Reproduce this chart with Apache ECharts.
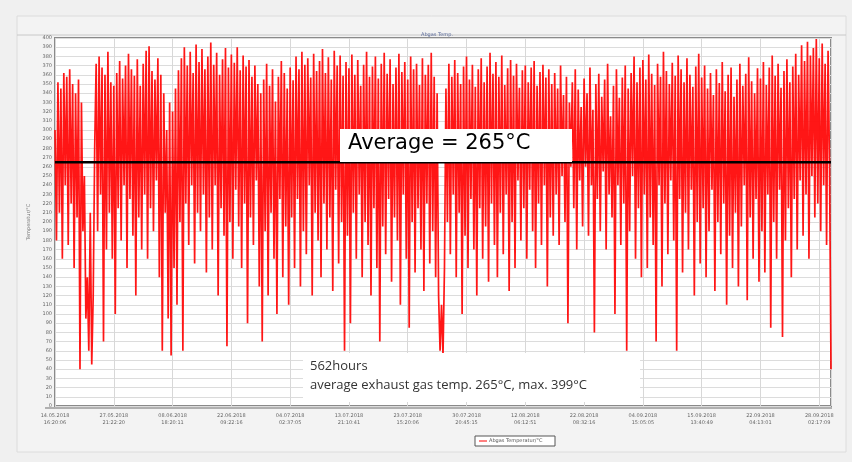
<!DOCTYPE html>
<html>
<head>
<meta charset="utf-8">
<script src="https://cdn.jsdelivr.net/npm/echarts@6/dist/echarts.min.js"></script>
<style>
html,body{margin:0;padding:0;background:#f0f0f0;}
#c{width:852px;height:462px;}
</style>
</head>
<body>
<div id="c"></div>
<script>
// ---- data ----
const chartTitle = 'Abgas Temp.';
const yAxisName = 'Temperatur/°C';
const legendName = 'Abgas Temperatur/°C';
const averageValue = 265;
const hoursText = '562hours';
const noteText = 'average exhaust gas temp. 265°C, max. 399°C';
const averageLabel = 'Average = 265°C';
const xTickLabels = [
  '14.05.2018\n16:20:06','27.05.2018\n21:22:20','08.06.2018\n18:20:11','22.06.2018\n09:22:16',
  '04.07.2018\n02:37:05','13.07.2018\n21:10:41','23.07.2018\n15:20:06','30.07.2018\n20:45:15',
  '12.08.2018\n06:12:51','22.08.2018\n08:32:16','04.09.2018\n15:05:05','15.09.2018\n13:40:49',
  '22.09.2018\n04:13:01','28.09.2018\n02:17:09'
];
const temperature = [
300,180,352,210,345,160,362,240,358,175,366,220,350,150,340,205,355,40,330,190,
250,95,140,60,210,45,120,280,372,190,380,230,368,70,360,170,385,210,352,160,
348,100,362,215,375,180,356,240,370,150,383,225,366,185,359,120,377,205,348,170,
372,230,386,160,391,215,364,190,355,245,378,140,360,60,340,210,300,95,330,55,
320,150,345,110,365,200,378,60,390,220,370,175,385,240,362,155,393,210,374,190,
388,230,366,145,380,205,395,170,371,240,384,120,360,215,377,185,389,65,368,200,
382,160,373,235,390,195,365,150,381,220,369,90,376,205,358,175,370,245,350,130,
340,70,355,190,372,120,348,210,366,160,331,100,358,225,375,140,362,195,345,110,
368,205,354,150,380,225,366,130,385,190,371,165,378,240,357,120,383,210,364,180,
375,140,388,220,362,170,379,205,355,125,386,235,370,155,381,200,359,60,374,185,
367,90,382,210,360,160,376,230,348,140,371,200,385,175,358,120,369,215,380,150,
356,70,372,195,384,165,361,225,377,135,350,205,368,180,383,110,363,230,374,160,
355,85,380,200,366,145,372,215,349,170,378,125,360,220,371,155,384,190,358,140,
340,120,60,110,55,150,345,200,372,165,358,230,376,140,362,210,350,100,369,185,
380,150,355,225,371,170,347,120,366,215,378,160,352,195,369,135,384,220,361,175,
374,140,358,210,381,165,349,230,367,125,376,200,359,150,372,245,346,180,365,215,
370,160,352,235,368,190,375,150,348,220,363,175,371,240,357,130,366,205,350,185,
362,230,345,175,370,250,338,200,358,90,330,260,352,215,366,170,344,245,325,195,
356,260,340,185,368,240,322,80,350,225,361,190,336,255,355,170,372,230,315,205,
348,100,366,240,335,175,357,220,370,60,345,190,362,250,380,160,352,215,368,140,
376,230,355,150,382,205,361,175,349,70,372,240,358,130,385,220,364,165,350,245,
373,180,359,60,381,225,366,145,352,210,378,170,360,235,347,120,369,200,383,155,
357,215,370,140,345,190,362,235,338,125,366,200,351,165,374,220,342,110,360,185,
368,150,336,210,355,130,372,195,348,240,361,115,379,205,353,160,340,225,367,135,
356,190,374,145,349,230,368,85,381,200,359,160,372,235,346,75,364,180,377,215,
352,140,369,225,383,170,360,245,392,185,375,230,396,160,381,250,389,205,399,220,
378,190,394,240,372,175,386,260,40
];

const lastIndex = temperature.length - 1;
const labelStep = 40;
const seriesData = temperature.map((v, i) => [i, v]);

const chart = echarts.init(document.getElementById('c'), null, {renderer: 'canvas'});
chart.setOption({
  animation: false,
  backgroundColor: '#f0f0f0',
  title: {
    text: chartTitle, left: 432, top: 27, textAlign: 'center',
    textStyle: {fontSize: 5, color: '#5a6a9a', fontWeight: 'normal', fontFamily: 'DejaVu Sans'}
  },
  grid: {left: 55, right: 21, top: 38, bottom: 56, show: true, backgroundColor: '#ffffff', borderColor: '#8a8a8a', borderWidth: 2},
  xAxis: {
    type: 'value', min: 0, max: lastIndex, interval: labelStep,
    axisLine: {show: false}, axisTick: {show: false},
    axisLabel: {
      fontSize: 5, color: '#666', fontFamily: 'DejaVu Sans', margin: 6, lineHeight: 7, showMaxLabel: false,
      formatter: v => (v % labelStep === 0 && xTickLabels[v / labelStep]) ? xTickLabels[v / labelStep] : ''
    },
    splitLine: {show: true, lineStyle: {color: '#d8d8d8', width: 1}}
  },
  yAxis: {
    type: 'value', min: 0, max: 400, interval: 10,
    name: yAxisName, nameLocation: 'middle', nameGap: 15, nameRotate: 90,
    nameTextStyle: {fontSize: 5, color: '#777', fontFamily: 'DejaVu Sans'},
    axisLine: {show: false}, axisTick: {show: false},
    axisLabel: {fontSize: 5, color: '#666', fontFamily: 'DejaVu Sans', margin: 3},
    splitLine: {show: true, lineStyle: {color: '#dcdcdc', width: 1}}
  },
  series: [
    {
      name: legendName, type: 'line', data: seriesData, showSymbol: false, symbol: 'none',
      lineStyle: {color: '#ff0a0a', width: 1.7, opacity: 0.95}, itemStyle: {color: '#ff0000'}, z: 2
    },
    {
      name: 'Average', type: 'line', data: [[0, averageValue], [lastIndex, averageValue]],
      showSymbol: false, symbol: 'none', lineStyle: {color: '#000000', width: 2.5}, z: 5
    }
  ],
  graphic: [
    {type: 'rect', z: -10, shape: {x: 17, y: 16, width: 829, height: 436}, style: {fill: '#f3f3f3', stroke: '#dcdcdc', lineWidth: 1}},
    {type: 'line', z: -9, shape: {x1: 17, y1: 35, x2: 846, y2: 35}, style: {stroke: '#c8c8c8', lineWidth: 1}},
    {type: 'line', z: -9, shape: {x1: 45, y1: 408, x2: 832, y2: 408}, style: {stroke: '#b0b0b0', lineWidth: 2}},
    {type: 'rect', z: 10, shape: {x: 340, y: 129, width: 232, height: 33}, style: {fill: '#ffffff'}},
    {type: 'text', z: 11, x: 348, y: 133, style: {text: averageLabel, font: '21px "DejaVu Sans"', fill: '#000'}},
    {type: 'rect', z: 10, shape: {x: 303, y: 353, width: 337, height: 49}, style: {fill: '#ffffff'}},
    {type: 'text', z: 11, x: 310, y: 360, style: {text: hoursText, font: '13px "Open Sans"', fill: '#333'}},
    {type: 'text', z: 11, x: 310, y: 379, style: {text: noteText, font: '13px "Open Sans"', fill: '#333'}},
    {type: 'rect', z: 10, shape: {x: 475, y: 436, width: 80, height: 10}, style: {fill: '#ffffff', stroke: '#555', lineWidth: 1}},
    {type: 'line', z: 11, shape: {x1: 479, y1: 441, x2: 487, y2: 441}, style: {stroke: '#ff0000', lineWidth: 1}},
    {type: 'text', z: 11, x: 489, y: 438, style: {text: legendName, font: '5px "DejaVu Sans"', fill: '#555'}}
  ]
});
</script>
</body>
</html>
